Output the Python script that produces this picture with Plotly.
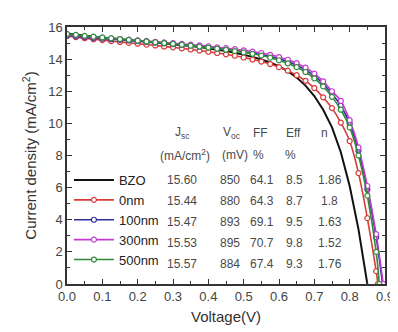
import plotly.graph_objects as go

# Voltage grid (V)
V_grid = [0.0, 0.025, 0.05, 0.075, 0.1, 0.125, 0.15, 0.175, 0.2, 0.225, 0.25, 0.275,
          0.3, 0.325, 0.35, 0.375, 0.4, 0.425, 0.45, 0.475, 0.5, 0.525, 0.55, 0.575,
          0.6, 0.625, 0.65, 0.675, 0.7, 0.725, 0.75, 0.775, 0.8, 0.825]

V_bzo = V_grid + [0.85]
J_bzo = [15.60, 15.52, 15.45, 15.40, 15.35, 15.30, 15.25, 15.20, 15.15, 15.10, 15.05, 15.00,
         14.95, 14.89, 14.82, 14.75, 14.68, 14.60, 14.50, 14.40, 14.28, 14.14, 13.98, 13.79,
         13.55, 13.25, 12.85, 12.35, 11.70, 10.85, 9.75, 8.20, 6.10, 3.40, 0.0]

V_0nm = V_grid + [0.85, 0.875, 0.88]
J_0nm = [15.44, 15.37, 15.30, 15.24, 15.18, 15.12, 15.07, 15.01, 14.96, 14.90, 14.85, 14.79,
         14.73, 14.67, 14.60, 14.53, 14.46, 14.38, 14.30, 14.21, 14.10, 13.98, 13.85, 13.69,
         13.50, 13.28, 13.00, 12.65, 12.20, 11.62, 10.95, 10.05, 8.90, 6.90, 4.10, 0.80, 0.0]

V_100nm = V_grid + [0.85, 0.875, 0.893]
J_100nm = [15.47, 15.42, 15.37, 15.32, 15.28, 15.24, 15.20, 15.16, 15.12, 15.08, 15.03, 14.99,
           14.94, 14.89, 14.84, 14.79, 14.73, 14.67, 14.60, 14.54, 14.46, 14.38, 14.28, 14.16,
           14.02, 13.85, 13.62, 13.33, 12.95, 12.45, 11.85, 11.10, 10.00, 8.30, 5.90, 2.90, 0.0]

V_300nm = V_grid + [0.85, 0.875, 0.895]
J_300nm = [15.53, 15.47, 15.42, 15.37, 15.33, 15.29, 15.25, 15.21, 15.17, 15.13, 15.08, 15.04,
           14.99, 14.95, 14.90, 14.85, 14.80, 14.74, 14.68, 14.62, 14.55, 14.47, 14.38, 14.27,
           14.13, 13.96, 13.75, 13.47, 13.10, 12.62, 12.00, 11.40, 10.20, 8.50, 6.10, 3.10, 0.0]

V_500nm = V_grid + [0.85, 0.875, 0.884]
J_500nm = [15.57, 15.51, 15.45, 15.40, 15.35, 15.30, 15.25, 15.20, 15.15, 15.10, 15.05, 15.00,
           14.95, 14.90, 14.84, 14.78, 14.72, 14.65, 14.58, 14.50, 14.42, 14.33, 14.22, 14.09,
           13.93, 13.74, 13.50, 13.20, 12.80, 12.30, 11.65, 10.85, 9.75, 8.00, 5.50, 2.00, 0.0]

series_names = ["BZO", "0nm", "100nm", "300nm", "500nm"]
table_header1 = ["J<sub>sc</sub>", "V<sub>oc</sub>", "FF", "Eff", "n"]
table_header2 = ["(mA/cm<sup>2</sup>)", "(mV)", "%", "%", ""]
Jsc_vals = ["15.60", "15.44", "15.47", "15.53", "15.57"]
Voc_vals = ["850", "880", "893", "895", "884"]
FF_vals = ["64.1", "64.3", "69.1", "70.7", "67.4"]
Eff_vals = ["8.5", "8.7", "9.5", "9.8", "9.3"]
n_vals = ["1.86", "1.8", "1.63", "1.52", "1.76"]

x_ticks = [0.0, 0.1, 0.2, 0.3, 0.4, 0.5, 0.6, 0.7, 0.8, 0.9]
y_ticks = [0, 2, 4, 6, 8, 10, 12, 14, 16]

colors = {"BZO": "#111111", "0nm": "#d93a3a", "100nm": "#2b2f9a",
          "300nm": "#c43ad0", "500nm": "#2e8b3a"}

fig = go.Figure()
fig.add_trace(go.Scatter(x=V_bzo, y=J_bzo, name="BZO", mode="lines",
                         line=dict(color=colors["BZO"], width=2)))
for name, xs, ys in [("0nm", V_0nm, J_0nm), ("100nm", V_100nm, J_100nm),
                     ("300nm", V_300nm, J_300nm), ("500nm", V_500nm, J_500nm)]:
    fig.add_trace(go.Scatter(x=xs, y=ys, name=name, mode="lines+markers",
                             line=dict(color=colors[name], width=1.6, shape="spline"),
                             marker=dict(symbol="circle", size=5, color="white",
                                         line=dict(color=colors[name], width=1.2))))

# table annotations
L, R, T, B = 59, 12, 19, 56
W, H = 398, 332
pw, ph = W - L - R, H - T - B

def px(xp):
    return (xp - L) / pw

def py(yp):
    return (H - B - yp) / ph

col_x = [177, 227, 260, 293, 329]
hdr_x = [177, 228, 258, 292, 324]
row_y = [172, 193, 214, 235, 256]
tcol = "#4a4a4a"
tfont = dict(family="Arial, Liberation Sans, sans-serif", size=12, color=tcol)
for i, h in enumerate(table_header1):
    fig.add_annotation(x=px(hdr_x[i]), y=py(125), xref="paper", yref="paper", text=h,
                       showarrow=False, font=tfont, xanchor="center", yanchor="middle")
for i, h in enumerate(table_header2):
    if h:
        xx = [180, 232, 256, 289, 0][i]
        fig.add_annotation(x=px(xx), y=py(147), xref="paper", yref="paper", text=h,
                           showarrow=False, font=tfont, xanchor="center", yanchor="middle")
for r in range(5):
    vals = [Jsc_vals[r], Voc_vals[r], FF_vals[r], Eff_vals[r], n_vals[r]]
    for c, v in enumerate(vals):
        fig.add_annotation(x=px(col_x[c]), y=py(row_y[r]), xref="paper", yref="paper",
                           text=v, showarrow=False, font=tfont,
                           xanchor="center", yanchor="middle")

axis_common = dict(showline=True, linecolor="#333333", linewidth=1.5, mirror="allticks",
                   ticks="inside", ticklen=5, tickwidth=1.2, tickcolor="#333333",
                   showgrid=False, zeroline=False,
                   tickfont=dict(family="Arial, Liberation Sans, sans-serif", size=13,
                                 color="#444444"))

fig.update_layout(
    width=W, height=H,
    margin=dict(l=L, r=R, t=T, b=B),
    paper_bgcolor="white", plot_bgcolor="white",
    showlegend=True,
    legend=dict(x=px(61), y=py(157), xanchor="left", yanchor="top",
                bgcolor="rgba(0,0,0,0)", itemwidth=40, tracegroupgap=0,
                font=dict(family="Arial, Liberation Sans, sans-serif", size=13,
                          color="#222222")),
    xaxis=dict(range=[0, 0.9], tickvals=x_ticks,
               ticktext=[f"{v:.1f}" for v in x_ticks],
               minor=dict(ticks="inside", ticklen=3, dtick=0.05, tickcolor="#333333"),
               title=dict(text="Voltage(V)", standoff=8,
                          font=dict(family="Arial, Liberation Sans, sans-serif", size=15,
                                    color="#333333")),
               **axis_common),
    yaxis=dict(range=[0, 16], tickvals=y_ticks,
               minor=dict(ticks="inside", ticklen=3, dtick=1, tickcolor="#333333"),
               title=dict(text="Current density (mA/cm<sup>2</sup>)", standoff=8,
                          font=dict(family="Arial, Liberation Sans, sans-serif", size=15,
                                    color="#333333")),
               **axis_common),
)

fig.write_html("out.html")
